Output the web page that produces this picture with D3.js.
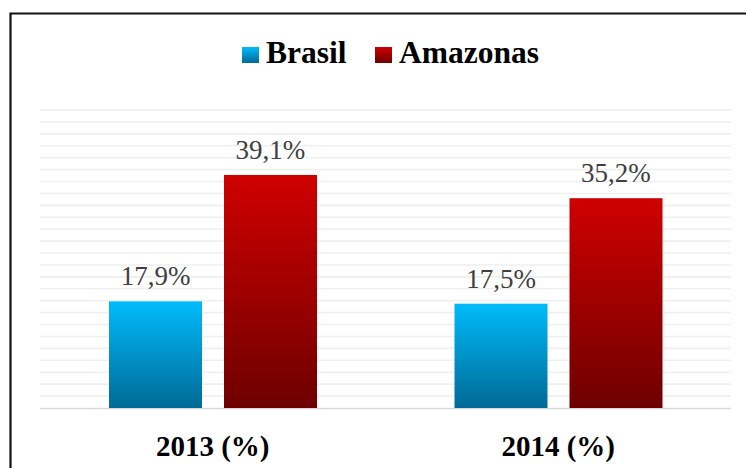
<!DOCTYPE html>
<html>
<head>
<meta charset="utf-8">
<script src="https://cdn.jsdelivr.net/npm/d3@7"></script>
<style>
  body { margin: 0; background: #fff; }
</style>
</head>
<body>
<div id="chart"></div>
<script>
const categories = ['2013 (%)', '2014 (%)'];
const series = ['Brasil', 'Amazonas'];
const brasilValues = [17.9, 17.5];
const amazonasValues = [39.1, 35.2];
const valueLabels = [['17,9%', '39,1%'], ['17,5%', '35,2%']];
const gridTicks = d3.range(0, 51, 2);

const width = 746, height = 468;
const plotLeft = 40, plotRight = 731, plotTop = 110, plotBottom = 408;
const serif = "'Liberation Serif', 'Times New Roman', Times, serif";

const svg = d3.select('#chart').append('svg')
    .attr('width', width)
    .attr('height', height)
    .style('display', 'block')
    .attr('font-family', serif);

// gradients
const defs = svg.append('defs');
const gradColors = {
    Brasil: ['#00bbfb', '#006a96'],
    Amazonas: ['#cf0000', '#6e0000']
};
series.forEach(s => {
    const g = defs.append('linearGradient')
        .attr('id', 'grad-' + s)
        .attr('x1', 0).attr('y1', 0).attr('x2', 0).attr('y2', 1);
    g.append('stop').attr('offset', '0%').attr('stop-color', gradColors[s][0]);
    g.append('stop').attr('offset', '100%').attr('stop-color', gradColors[s][1]);
});

const x = d3.scaleBand()
    .domain(categories)
    .range([plotLeft, plotRight]);

const xInner = d3.scaleBand()
    .domain(series)
    .range([69, 277])
    .paddingInner(0.1913);

const y = d3.scaleLinear()
    .domain([0, 50])
    .range([plotBottom, plotTop]);

// gridlines
svg.selectAll('.grid')
    .data(gridTicks.filter(d => d > 0))
    .join('line')
    .attr('class', 'grid')
    .attr('x1', plotLeft)
    .attr('x2', plotRight)
    .attr('y1', d => y(d))
    .attr('y2', d => y(d))
    .attr('stroke', '#efefef')
    .attr('stroke-width', 1.6);

// baseline
svg.append('line')
    .attr('x1', plotLeft)
    .attr('x2', plotRight)
    .attr('y1', y(0) + 0.5)
    .attr('y2', y(0) + 0.5)
    .attr('stroke', '#d9d9d9')
    .attr('stroke-width', 1.5);

const rows = categories.map((c, i) => ({
    cat: c,
    values: [
        { s: 'Brasil', v: brasilValues[i], label: valueLabels[i][0] },
        { s: 'Amazonas', v: amazonasValues[i], label: valueLabels[i][1] }
    ]
}));

const groups = svg.selectAll('.group')
    .data(rows)
    .join('g')
    .attr('class', 'group')
    .attr('transform', d => `translate(${x(d.cat)},0)`);

groups.selectAll('rect')
    .data(d => d.values)
    .join('rect')
    .attr('x', d => xInner(d.s))
    .attr('y', d => y(d.v))
    .attr('width', xInner.bandwidth())
    .attr('height', d => y(0) - y(d.v))
    .attr('fill', d => 'url(#grad-' + d.s + ')');

groups.selectAll('.val')
    .data(d => d.values)
    .join('text')
    .attr('class', 'val')
    .attr('x', d => xInner(d.s) + xInner.bandwidth() / 2)
    .attr('y', d => y(d.v) - 16)
    .attr('text-anchor', 'middle')
    .attr('font-family', serif)
    .attr('font-size', 27)
    .attr('fill', '#404040')
    .text(d => d.label);

// category labels
svg.selectAll('.cat')
    .data(categories)
    .join('text')
    .attr('class', 'cat')
    .attr('x', d => x(d) + x.bandwidth() / 2)
    .attr('y', 456)
    .attr('text-anchor', 'middle')
    .attr('font-family', serif)
    .attr('font-size', 29)
    .attr('font-weight', 'bold')
    .attr('fill', '#000')
    .text(d => d);

// legend
const legendX = [242, 375];
const legend = svg.selectAll('.legend')
    .data(series)
    .join('g')
    .attr('class', 'legend')
    .attr('transform', (d, i) => `translate(${legendX[i]},47)`);

legend.append('rect')
    .attr('width', 17)
    .attr('height', 16)
    .attr('fill', d => 'url(#grad-' + d + ')');

legend.append('text')
    .attr('x', 24)
    .attr('y', 16)
    .attr('font-family', serif)
    .attr('font-size', 31.5)
    .attr('font-weight', 'bold')
    .attr('fill', '#000')
    .text(d => d);

// frame (left and top edges visible)
svg.append('path')
    .attr('d', `M10.5,${height} L10.5,13.5 L${width},13.5`)
    .attr('fill', 'none')
    .attr('stroke', '#111')
    .attr('stroke-width', 2.2);
</script>
</body>
</html>
